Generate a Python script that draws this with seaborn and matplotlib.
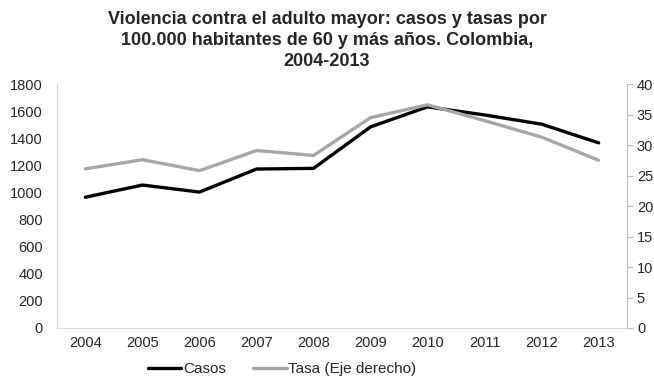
import seaborn as sns
import matplotlib.pyplot as plt
import pandas as pd

years = ['2004', '2005', '2006', '2007', '2008', '2009', '2010', '2011', '2012', '2013']
casos = [965, 1055, 1003, 1173, 1178, 1484, 1632, 1572, 1504, 1366]
tasa = [26.1, 27.6, 25.8, 29.1, 28.3, 34.5, 36.6, 34.0, 31.3, 27.5]

sns.set_style('white')
plt.rcParams['font.family'] = ['Liberation Sans', 'DejaVu Sans']

df = pd.DataFrame({'year': years, 'casos': casos, 'tasa': tasa})

fig = plt.figure(figsize=(6.54, 3.77), dpi=100)
ax = fig.add_axes([0.087, 0.13, 0.872, 0.647])
ax2 = ax.twinx()

sns.lineplot(data=df, x='year', y='casos', ax=ax, color='black', linewidth=2.4,
             sort=False, label='Casos', legend=False)
sns.lineplot(data=df, x='year', y='tasa', ax=ax2, color='#A6A6A6', linewidth=2.4,
             sort=False, label='Tasa (Eje derecho)', legend=False)

ax.set_xlim(-0.5, 9.5)
ax.set_ylim(0, 1800)
ax.set_yticks(range(0, 1801, 200))
ax2.set_ylim(0, 40)
ax2.set_yticks(range(0, 41, 5))

ax.set_xlabel('')
ax.set_ylabel('')
ax2.set_ylabel('')

for a in (ax, ax2):
    for s in a.spines.values():
        s.set_visible(False)
ax.spines['left'].set_visible(True)
ax.spines['left'].set_color('#D9D9D9')
ax.spines['bottom'].set_visible(True)
ax.spines['bottom'].set_color('#D9D9D9')
ax2.spines['right'].set_visible(True)
ax2.spines['right'].set_color('#BFBFBF')

ax.tick_params(axis='both', length=0, labelsize=10.5, colors='#262626', pad=6)
ax.tick_params(axis='y', pad=10)
ax2.tick_params(axis='y', length=4, color='#BFBFBF', labelsize=10.5, labelcolor='#262626', pad=3)

fig.suptitle('Violencia contra el adulto mayor: casos y tasas por\n100.000 habitantes de 60 y más años. Colombia,\n2004-2013',
             x=0.5, y=0.97, fontsize=13, fontweight='bold', linespacing=1.3)

h1, l1 = ax.get_legend_handles_labels()
h2, l2 = ax2.get_legend_handles_labels()
fig.legend(h1 + h2, l1 + l2, loc='lower left', bbox_to_anchor=(0.205, -0.035), ncol=2,
           frameon=False, fontsize=11, handlelength=2.2, handletextpad=0.1, columnspacing=1.8)

fig.savefig('out.png', dpi=100)
